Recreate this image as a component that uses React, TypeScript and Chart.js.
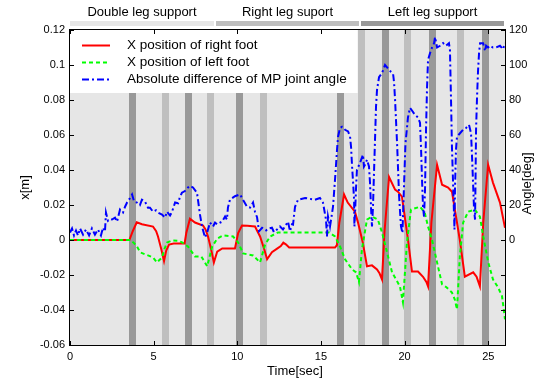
import React, { useEffect, useRef } from "react";
import { Chart, registerables } from "chart.js";

Chart.register(...registerables);

const FONT = '"Liberation Sans", Arial, Helvetica, sans-serif';

// ---- axes / labels ----
const timeMin = 0;
const timeMax = 26;
const xTickValues = [0, 5, 10, 15, 20, 25];
const leftTickValues = [-0.06, -0.04, -0.02, 0, 0.02, 0.04, 0.06, 0.08, 0.1, 0.12];
const rightTickValues = [-60, -40, -20, 0, 20, 40, 60, 80, 100, 120];
const xTitle = "Time[sec]";
const leftTitle = "x[m]";
const rightTitle = "Angle[deg]";

const phaseLabels = ["Double leg support", "Right leg suport", "Left leg support"];
const phaseColors = ["#e6e6e6", "#bebebe", "#999999"];

const seriesLabels = [
  "X position of right foot",
  "X position of left foot",
  "Absolute difference of MP joint angle",
];
const seriesColors = ["#ff0000", "#00ff00", "#0000ff"];
const seriesDashes: number[][] = [[], [4, 3], [7, 3, 2, 3]];

// shaded stance-switch intervals (seconds)
const darkStripeStarts = [3.53, 6.87, 9.92, 15.96, 18.65, 21.46, 24.63];
const lightStripeStarts = [5.5, 8.19, 11.36, 17.21, 19.96, 23.13];
const stripeDuration = 0.42;

// ---- series: [time, value] ----
const rightFoot: [number, number][] = [
  [0, 0], [3.55, 0], [3.75, 0.005], [3.99, 0.0101], [4.3, 0.009], [4.96, 0.0077], [5.15, 0.005],
  [5.26, 0.002], [5.45, -0.005], [5.62, -0.012], [5.75, -0.006], [5.92, -0.0026], [6.2, -0.002],
  [6.85, -0.002], [6.95, 0.004], [7.17, 0.0122], [7.47, 0.01], [7.95, 0.0083], [8.1, 0.006],
  [8.25, 0.002], [8.45, -0.006], [8.6, -0.0128], [8.8, -0.0066], [9.1, -0.0048], [9.86, -0.0048],
  [10.05, 0.004], [10.28, 0.0083], [10.6, 0.0082], [11.06, 0.0077], [11.2, 0.005], [11.36, 0.002],
  [11.6, -0.005], [11.78, -0.011], [12.07, -0.007], [12.4, -0.0048], [12.6, -0.0035], [12.75, -0.0015],
  [12.9, -0.0025], [13.1, -0.0043], [15.84, -0.0043], [15.95, -0.003], [16.1, 0.01], [16.38, 0.026],
  [16.6, 0.0214], [17.03, 0.0162], [17.2, 0.0105], [17.5, -0.0014], [17.75, -0.015], [18.05, -0.0145],
  [18.35, -0.0168], [18.5, -0.019], [18.65, -0.0225], [18.8, 0.005], [19.07, 0.036], [19.43, 0.0288],
  [19.6, 0.0276], [19.84, 0.0248], [20.2, 0.0003], [20.44, -0.018], [20.8, -0.018], [21.1, -0.021],
  [21.3, -0.024], [21.4, -0.0265], [21.6, 0.01], [21.94, 0.043], [22.24, 0.0316], [22.6, 0.03],
  [22.83, 0.0276], [23.3, 0], [23.6, -0.021], [24.1, -0.0185], [24.3, -0.021], [24.5, -0.0265],
  [24.7, 0.01], [24.99, 0.043], [25.28, 0.0328], [25.7, 0.0214], [26, 0.007],
];

const leftFoot: [number, number][] = [
  [0, 0], [3.6, 0], [3.8, -0.0015], [4.0, -0.0037], [4.2, -0.0071], [4.66, -0.0088], [4.96, -0.01],
  [5.2, -0.0128], [5.5, -0.01], [5.65, -0.005], [5.8, -0.0014], [6.1, -0.0003], [6.5, -0.0005],
  [6.7, -0.0014], [7.05, -0.0037], [7.47, -0.0094], [7.85, -0.0094], [8.2, -0.015], [8.5, -0.0037],
  [8.8, 0.0008], [9.15, 0.0026], [9.75, 0.002], [10.05, -0.0014], [10.35, -0.0077], [10.94, -0.0088],
  [11.36, -0.0128], [11.66, -0.0026], [11.96, 0.002], [12.43, 0.0043], [15.5, 0.0043], [15.84, 0.002],
  [16.14, -0.0037], [16.44, -0.011], [16.86, -0.0168], [17.1, -0.0185], [17.27, -0.024], [17.45, -0.0054],
  [17.75, 0.0117], [18.05, 0.0134], [18.4, 0.0117], [18.65, 0.0043], [18.95, -0.0071], [19.25, -0.0185],
  [19.55, -0.0236], [19.72, -0.0265], [19.9, -0.0356], [20.14, -0.0014], [20.38, 0.0174], [20.92, 0.019],
  [21.2, 0.0157], [21.4, 0.0077], [21.64, 0], [21.94, -0.0128], [22.24, -0.0254], [22.5, -0.027],
  [22.83, -0.03], [23.0, -0.034], [23.13, -0.0396], [23.3, -0.0094], [23.5, 0.01], [23.8, 0.0162],
  [24.2, 0.0174], [24.5, 0.0134], [24.7, 0.002], [25.0, -0.0128], [25.28, -0.0225], [25.58, -0.027],
  [25.82, -0.032], [26, -0.0453],
];

const mpAngle: [number, number][] = [
  [0, 4.3], [0.12, 6.6], [0.24, 2.6], [0.36, 5.4], [0.48, 2.6], [0.6, 6.6], [0.78, 3.1], [0.96, 6],
  [1.14, 2.6], [1.31, 6.6], [1.49, 3.1], [1.67, 6], [1.85, 2.6], [1.97, 7.1], [2.09, 4.8], [2.15, 15.7],
  [2.27, 11], [2.39, 12], [2.51, 11.7], [2.69, 12.8], [2.81, 10.5], [2.99, 17.4], [3.17, 15.7], [3.29, 19],
  [3.41, 21.4], [3.59, 24], [3.71, 26], [3.83, 22], [4.0, 21.4], [4.18, 20], [4.3, 23], [4.48, 22],
  [4.66, 18.5], [4.78, 18.5], [4.96, 16.2], [5.14, 17], [5.26, 15.7], [5.5, 14.5], [5.68, 12.8],
  [5.8, 16.2], [5.98, 14], [6.1, 16.2], [6.28, 21.4], [6.46, 21], [6.58, 24.8], [6.69, 27], [6.87, 28],
  [7.05, 30], [7.17, 31], [7.35, 30], [7.59, 27], [7.77, 14.5], [7.89, 7.7], [8.07, 1.4], [8.19, 4],
  [8.31, 8], [8.37, 10], [8.55, 7.7], [8.67, 10], [8.79, 9], [9.09, 10.5], [9.27, 13.4], [9.38, 11.7],
  [9.44, 18.5], [9.56, 23], [9.86, 25], [10.16, 26], [10.34, 23], [10.58, 19], [10.76, 18.5],
  [10.94, 21.4], [11.06, 16], [11.18, 13], [11.3, 5], [11.48, 7], [11.72, 5.5], [11.84, 6.5], [12.07, 7],
  [12.19, 4.5], [12.37, 6], [12.55, 7.7], [12.73, 6], [12.85, 7.7], [13.03, 10.5], [13.15, 5], [13.27, 9],
  [13.33, 8.8], [13.45, 19], [13.63, 23], [14.05, 24], [14.35, 23.5], [14.64, 23], [14.94, 24],
  [15.12, 21.4], [15.3, 11.7], [15.36, 2], [15.42, 13.4], [15.54, 7.7], [15.72, 19], [15.84, 34.5],
  [15.96, 51.6], [16.02, 59], [16.14, 64], [16.26, 64.7], [16.44, 63], [16.62, 62], [16.74, 59],
  [16.8, 53], [16.86, 42], [16.92, 33], [16.98, 23], [17.0, 7.7], [17.04, 15.7], [17.1, 30.5],
  [17.15, 40], [17.33, 44], [17.51, 48.7], [17.57, 42], [17.63, 43], [17.75, 45.9], [17.87, 42],
  [17.93, 33], [17.99, 19], [18.05, 7.7], [18.11, 19], [18.17, 38.5], [18.23, 57], [18.29, 76],
  [18.35, 85.8], [18.47, 93], [18.65, 95.4], [18.83, 100], [19.01, 98], [19.19, 96], [19.31, 95],
  [19.37, 90], [19.43, 80], [19.55, 55], [19.67, 25], [19.78, 8], [19.87, 4], [19.96, 30], [20.05, 55],
  [20.2, 70], [20.32, 75.5], [20.44, 74], [20.62, 71.5], [20.8, 70], [20.92, 67], [20.98, 53],
  [21.04, 34.5], [21.1, 19], [21.16, 13.4], [21.22, 28.8], [21.28, 63], [21.34, 87], [21.4, 103],
  [21.52, 106.8], [21.64, 110], [21.76, 112.5], [21.82, 116], [21.94, 110], [22.12, 111], [22.3, 112.5],
  [22.47, 111], [22.65, 112.5], [22.71, 108.5], [22.77, 82], [22.83, 53], [22.89, 34.5], [22.95, 15.7],
  [22.98, 6], [23.01, 28.8], [23.07, 51.6], [23.13, 59], [23.31, 61], [23.49, 63], [23.67, 64],
  [23.85, 65.8], [23.97, 61], [24.03, 47.6], [24.09, 33], [24.15, 17.4], [24.21, 11.7], [24.24, 35],
  [24.27, 63], [24.33, 82], [24.39, 97], [24.45, 107], [24.51, 112.5], [24.69, 112.5], [24.81, 108],
  [24.87, 111], [24.99, 110], [25.1, 111], [25.28, 110], [25.46, 110], [25.7, 111], [25.88, 109],
  [26, 112.5],
];

const decorPlugin = {
  id: "decor",
  beforeDatasetsDraw(chart: any) {
    const { ctx, chartArea: a, scales } = chart;
    const x = scales.x;
    ctx.save();
    ctx.fillStyle = "#e6e6e6";
    ctx.fillRect(a.left, a.top, a.right - a.left, a.bottom - a.top);
    const band = (t: number, color: string) => {
      const x0 = Math.round(x.getPixelForValue(t));
      const x1 = Math.round(x.getPixelForValue(t + stripeDuration));
      ctx.fillStyle = color;
      ctx.fillRect(x0, a.top, x1 - x0, a.bottom - a.top);
    };
    lightStripeStarts.forEach((t) => band(t, "#bfbfbf"));
    darkStripeStarts.forEach((t) => band(t, "#999999"));
    ctx.restore();
  },
  afterDatasetsDraw(chart: any) {
    const { ctx, chartArea: a } = chart;
    ctx.save();
    ctx.font = `13.5px ${FONT}`;
    const maxW = Math.max(...seriesLabels.map((s) => ctx.measureText(s).width));
    const sampleX0 = a.left + 12;
    const sampleX1 = a.left + 40;
    const textX = a.left + 57;
    const boxW = textX + maxW + 11 - a.left;
    const boxH = 63;
    ctx.fillStyle = "#ffffff";
    ctx.fillRect(a.left, a.top, boxW, boxH);
    const rowOffsets = [15.5, 32.5, 49.5];
    seriesLabels.forEach((label, i) => {
      const y = a.top + rowOffsets[i];
      ctx.strokeStyle = seriesColors[i];
      ctx.lineWidth = 2;
      ctx.setLineDash(seriesDashes[i]);
      ctx.beginPath();
      ctx.moveTo(sampleX0, y);
      ctx.lineTo(sampleX1, y);
      ctx.stroke();
      ctx.setLineDash([]);
      ctx.fillStyle = "#000";
      ctx.textAlign = "left";
      ctx.textBaseline = "middle";
      ctx.fillText(label, textX, y);
    });
    ctx.restore();
  },
  afterDraw(chart: any) {
    const { ctx, chartArea: a, scales } = chart;
    ctx.save();
    // frame
    ctx.strokeStyle = "#000";
    ctx.lineWidth = 1;
    ctx.strokeRect(a.left - 0.5, a.top - 0.5, a.right - a.left + 1, a.bottom - a.top + 1);
    // inward tick marks
    const tl = 4;
    ctx.beginPath();
    xTickValues.forEach((v) => {
      const px = Math.round(scales.x.getPixelForValue(v)) + 0.5;
      ctx.moveTo(px, a.bottom);
      ctx.lineTo(px, a.bottom - tl);
      ctx.moveTo(px, a.top);
      ctx.lineTo(px, a.top + tl);
    });
    leftTickValues.forEach((v) => {
      const py = Math.round(scales.y.getPixelForValue(v)) + 0.5;
      ctx.moveTo(a.left, py);
      ctx.lineTo(a.left + tl, py);
    });
    rightTickValues.forEach((v) => {
      const py = Math.round(scales.y1.getPixelForValue(v)) + 0.5;
      ctx.moveTo(a.right, py);
      ctx.lineTo(a.right - tl, py);
    });
    ctx.stroke();

    // phase header
    const w = (a.right - a.left) / 3;
    ctx.font = `13px ${FONT}`;
    ctx.textAlign = "center";
    ctx.textBaseline = "middle";
    phaseLabels.forEach((label, i) => {
      const bx0 = Math.round(a.left + i * w) + (i === 0 ? 0 : 1);
      const bx1 = Math.round(a.left + (i + 1) * w) - 1;
      ctx.fillStyle = phaseColors[i];
      ctx.fillRect(bx0, 21, bx1 - bx0, 5);
      ctx.fillStyle = "#000";
      ctx.fillText(label, (bx0 + bx1) / 2, 12.5);
    });

    // axis titles
    ctx.fillStyle = "#000";
    ctx.font = `13px ${FONT}`;
    ctx.textAlign = "center";
    ctx.textBaseline = "middle";
    ctx.fillText(xTitle, 295, 371);
    const midY = (a.top + a.bottom) / 2;
    ctx.save();
    ctx.translate(25, midY);
    ctx.rotate(-Math.PI / 2);
    ctx.fillText(leftTitle, 0, 0);
    ctx.restore();
    ctx.save();
    ctx.translate(527, midY - 4);
    ctx.rotate(-Math.PI / 2);
    ctx.fillText(rightTitle, 0, 0);
    ctx.restore();
    ctx.restore();
  },
};

export default function App() {
  const canvasRef = useRef<HTMLCanvasElement | null>(null);

  useEffect(() => {
    document.body.style.margin = "0";
    const canvas = canvasRef.current;
    if (!canvas) return;
    const tickFont = { size: 11, family: FONT };
    const chart = new Chart(canvas, {
      type: "line",
      data: {
        datasets: [
          {
            label: seriesLabels[0],
            data: rightFoot.map(([t, v]) => ({ x: t, y: v })),
            yAxisID: "y",
            borderColor: seriesColors[0],
            borderWidth: 2,
            pointRadius: 0,
            tension: 0,
            fill: false,
            order: 3,
          },
          {
            label: seriesLabels[1],
            data: leftFoot.map(([t, v]) => ({ x: t, y: v })),
            yAxisID: "y",
            borderColor: seriesColors[1],
            borderWidth: 2,
            borderDash: seriesDashes[1],
            pointRadius: 0,
            tension: 0,
            fill: false,
            order: 2,
          },
          {
            label: seriesLabels[2],
            data: mpAngle.map(([t, v]) => ({ x: t, y: v })),
            yAxisID: "y1",
            borderColor: seriesColors[2],
            borderWidth: 2,
            borderDash: seriesDashes[2],
            pointRadius: 0,
            tension: 0,
            fill: false,
            order: 1,
          },
        ],
      },
      options: {
        responsive: false,
        animation: false,
        events: [],
        layout: { padding: { top: 30, left: 0, right: 0, bottom: 0 } },
        plugins: {
          legend: { display: false },
          tooltip: { enabled: false },
        },
        scales: {
          x: {
            type: "linear",
            min: timeMin,
            max: timeMax,
            afterBuildTicks: (s: any) => {
              s.ticks = xTickValues.map((v) => ({ value: v }));
            },
            ticks: { font: tickFont, color: "#000", padding: 5, maxRotation: 0, autoSkip: false },
            grid: { display: false, drawTicks: false },
            border: { display: false },
            afterFit: (s: any) => {
              s.height = 38;
            },
          },
          y: {
            type: "linear",
            position: "left",
            min: -0.06,
            max: 0.12,
            afterBuildTicks: (s: any) => {
              s.ticks = leftTickValues.map((v) => ({ value: v }));
            },
            ticks: {
              font: tickFont,
              color: "#000",
              padding: 5,
              callback: (v: any) => String(+Number(v).toFixed(2)),
            },
            grid: { display: false, drawTicks: false },
            border: { display: false },
            afterFit: (s: any) => {
              s.width = 70;
            },
          },
          y1: {
            type: "linear",
            position: "right",
            min: -60,
            max: 120,
            afterBuildTicks: (s: any) => {
              s.ticks = rightTickValues.map((v) => ({ value: v }));
            },
            ticks: {
              font: tickFont,
              color: "#000",
              padding: 4,
              callback: (v: any) => (Number(v) >= 0 ? String(v) : ""),
            },
            grid: { display: false, drawTicks: false },
            border: { display: false },
            afterFit: (s: any) => {
              s.width = 38;
            },
          },
        },
      },
      plugins: [decorPlugin],
    });
    return () => chart.destroy();
  }, []);

  return (
    <div style={{ position: "absolute", left: 0, top: 0, width: 543, height: 383, background: "#fff" }}>
      <canvas ref={canvasRef} width={543} height={383} style={{ display: "block", width: 543, height: 383 }} />
    </div>
  );
}
